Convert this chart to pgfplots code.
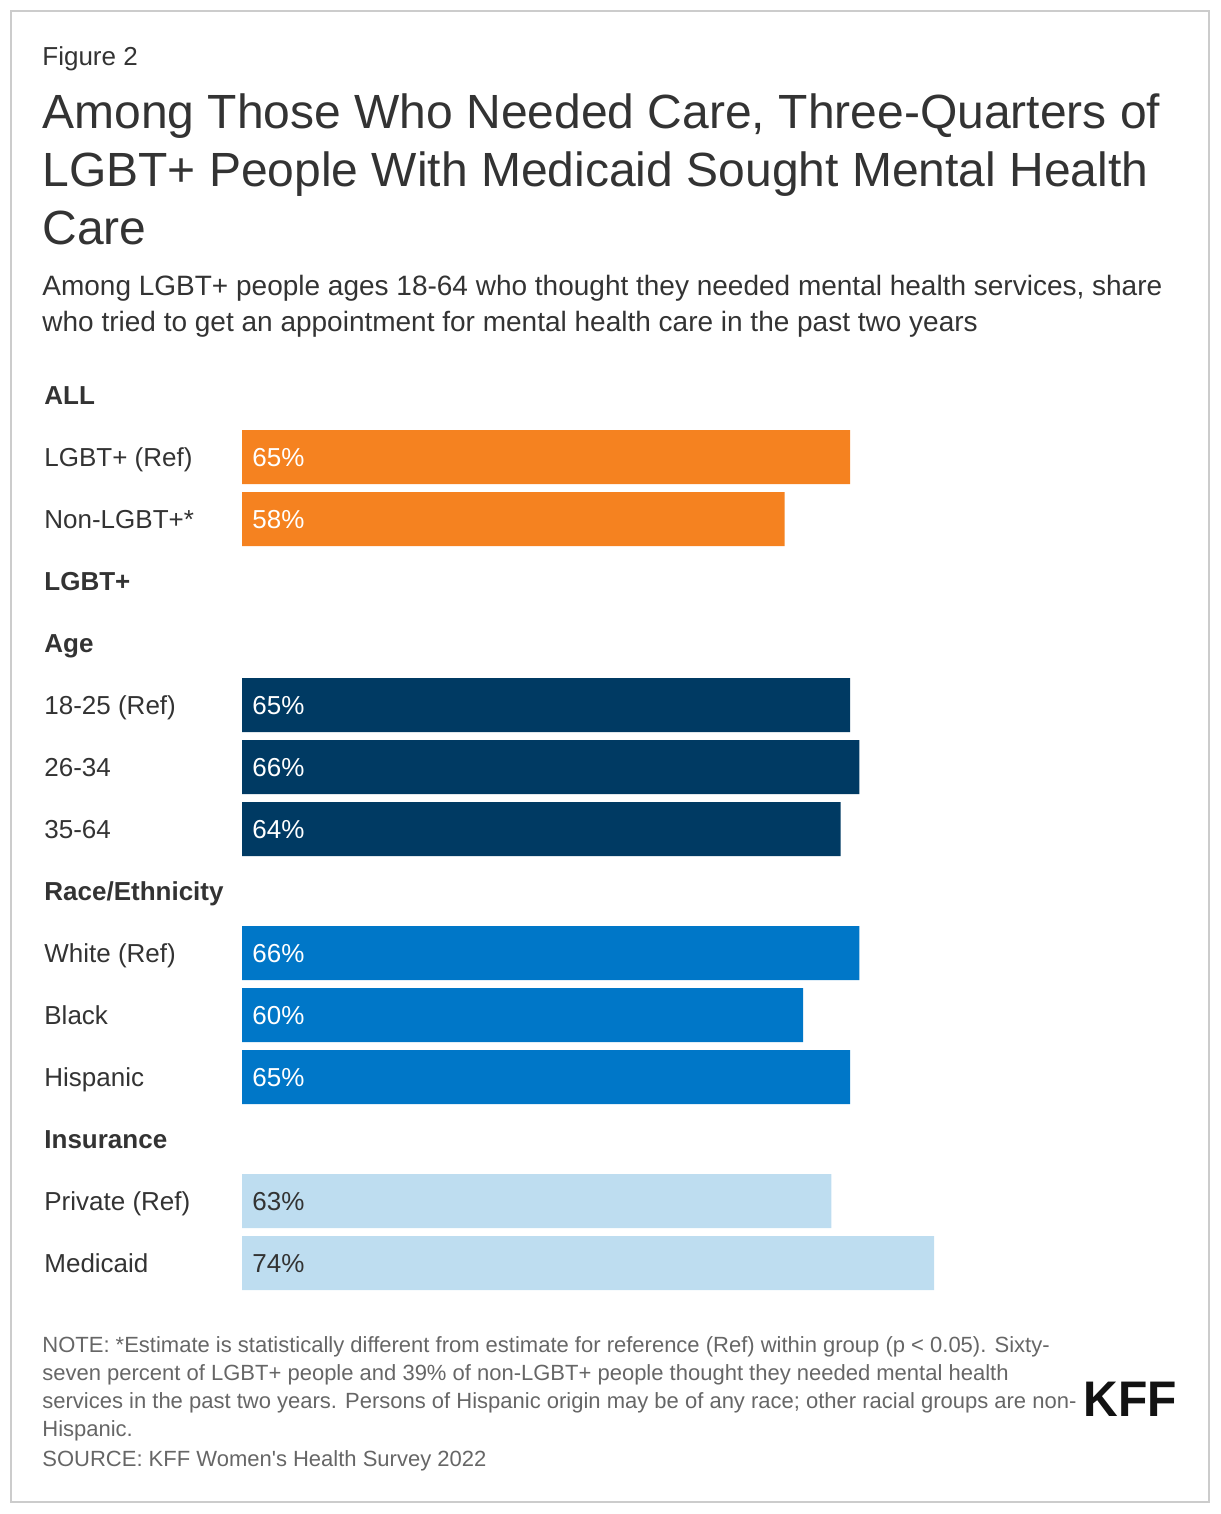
\documentclass[border=0pt]{standalone}
\usepackage{pgfplots}
\pgfplotsset{compat=1.18}
\usepackage{fontspec}
\setmainfont{Liberation Sans}
\definecolor{kfforange}{HTML}{F58220}
\definecolor{kffnavy}{HTML}{003A63}
\definecolor{kffblue}{HTML}{0077C8}
\definecolor{kfflight}{HTML}{BEDDF0}
\definecolor{txt}{HTML}{333333}
\definecolor{notegray}{HTML}{666666}
\definecolor{framegray}{HTML}{CCCCCC}
\begin{document}
\begin{tikzpicture}
\path[use as bounding box] (0,0) rectangle (610pt,-757pt);
\draw[framegray, line width=1pt] (5.5pt,-5.5pt) rectangle (604.5pt,-751pt);
% header
\node[anchor=base west, inner sep=0pt, text=txt, font=\fontsize{13}{15}\selectfont] at (21pt,-33pt) {Figure 2};
\begin{scope}[every node/.style={anchor=base west, inner sep=0pt, text=txt, font=\fontsize{24}{29}\selectfont}]
\node at (21pt,-64.5pt) {Among Those Who Needed Care, Three-Quarters of};
\node at (21pt,-93.5pt) {LGBT+ People With Medicaid Sought Mental Health};
\node at (21pt,-122.5pt) {Care};
\end{scope}
\begin{scope}[every node/.style={anchor=base west, inner sep=0pt, text=txt, font=\fontsize{14}{18}\selectfont}]
\node at (21pt,-147.5pt) {Among LGBT+ people ages 18-64 who thought they needed mental health services, share};
\node at (21pt,-165.5pt) {who tried to get an appointment for mental health care in the past two years};
\end{scope}
% notes
\begin{scope}[every node/.style={anchor=base west, inner sep=0pt, text=notegray, font=\fontsize{11}{14}\selectfont}]
\node at (21pt,-676pt) {NOTE: *Estimate is statistically different from estimate for reference (Ref) within group (p < 0.05). Sixty-};
\node at (21pt,-690pt) {seven percent of LGBT+ people and 39\% of non-LGBT+ people thought they needed mental health};
\node at (21pt,-704pt) {services in the past two years. Persons of Hispanic origin may be of any race; other racial groups are non-};
\node at (21pt,-718pt) {Hispanic.};
\node at (21pt,-733pt) {SOURCE: KFF Women\textquotesingle s Health Survey 2022};
\end{scope}
\node[anchor=base west, inner sep=0pt, text=black!93, font=\fontsize{25}{25}\selectfont\bfseries, xscale=0.96] at (541.5pt,-708pt) {KFF};
% chart
\begin{axis}[
  at={(121pt,-182pt)}, anchor=north west,
  scale only axis, width=467.7pt, height=465pt,
  xmin=0, xmax=100, ymin=-0.5, ymax=14.5, y dir=reverse,
  axis line style={draw=none}, major tick length=0pt,
  xtick=\empty, ytick={0,...,14},
  yticklabels={\textbf{ALL}, LGBT+ (Ref), Non-LGBT+*, \textbf{LGBT+}, \textbf{Age}, 18-25 (Ref), 26-34, 35-64, \textbf{Race/Ethnicity}, White (Ref), Black, Hispanic, \textbf{Insurance}, Private (Ref), Medicaid},
  yticklabel style={anchor=base west, inner sep=0pt, xshift=-99pt, yshift=-4.65pt, text=txt, font=\fontsize{13}{15}\selectfont},
  clip=false,
  every node near coord/.append style={anchor=base west, inner sep=0pt, xshift=5pt, yshift=-4.65pt, font=\fontsize{13}{15}\selectfont},
]
\addplot[xbar, bar width=27pt, bar shift=0pt, fill=kfforange, draw=none] coordinates {(65,1) (58,2)};
\addplot[xbar, bar width=27pt, bar shift=0pt, fill=kffnavy, draw=none] coordinates {(65,5) (66,6) (64,7)};
\addplot[xbar, bar width=27pt, bar shift=0pt, fill=kffblue, draw=none] coordinates {(66,9) (60,10) (65,11)};
\addplot[xbar, bar width=27pt, bar shift=0pt, fill=kfflight, draw=none] coordinates {(63,13) (74,14)};
\addplot[draw=none, mark=none, point meta=explicit symbolic, nodes near coords, every node near coord/.append style={text=white}]
  coordinates {(0,1) [65\%] (0,2) [58\%] (0,5) [65\%] (0,6) [66\%] (0,7) [64\%] (0,9) [66\%] (0,10) [60\%] (0,11) [65\%]};
\addplot[draw=none, mark=none, point meta=explicit symbolic, nodes near coords, every node near coord/.append style={text=txt}]
  coordinates {(0,13) [63\%] (0,14) [74\%]};
\end{axis}
\end{tikzpicture}
\end{document}
